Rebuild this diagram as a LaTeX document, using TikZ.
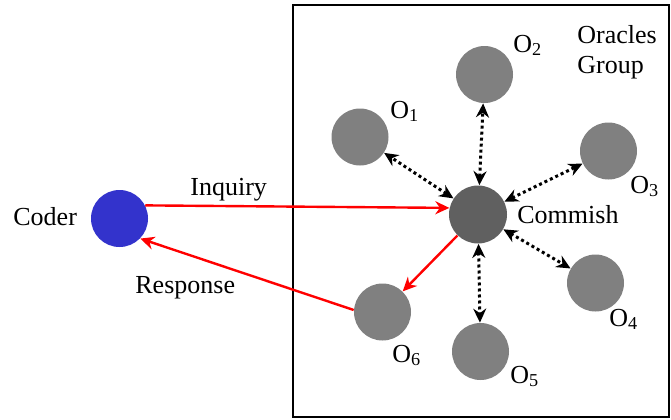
\documentclass[tikz,border=0pt]{standalone}
\usepackage{fontspec}
\setmainfont{Liberation Serif}
\usetikzlibrary{arrows.meta}
\definecolor{coderblue}{HTML}{3333CC}
\definecolor{oragray}{HTML}{808080}
\definecolor{comgray}{HTML}{606060}
\begin{document}
\begin{tikzpicture}[x=0.5pt,y=-0.5pt,
  lbl/.style={font=\fontsize{13pt}{15pt}\selectfont, inner sep=0pt, anchor=base west},
  oracle/.style={circle, fill=oragray, minimum size=28.5pt, inner sep=0pt},
  redarr/.style={red, line width=1.2pt, -{Stealth[length=7pt,width=6.5pt]}},
  dotarr/.style={line width=1.5pt, dash pattern=on 1.5pt off 1.5pt, {Stealth[length=7pt,width=6.5pt]}-{Stealth[length=7pt,width=6.5pt]}}]
\useasboundingbox (0,0) rectangle (671,419);
\node[draw, line width=1pt, minimum width=188pt, minimum height=206pt, inner sep=0pt] (grp) at (481,211) {};
\node[circle, fill=coderblue, minimum size=28.5pt, inner sep=0pt] (coder) at (119.5,218.5) {};
\node[circle, fill=comgray, minimum size=29pt, inner sep=0pt] (com) at (478,214.5) {};
\node[oracle] (o1) at (360,137) {};
\node[oracle] (o2) at (484.5,74.5) {};
\node[oracle] (o3) at (608.5,151) {};
\node[oracle] (o4) at (595.5,283) {};
\node[oracle] (o5) at (480.5,351.5) {};
\node[oracle] (o6) at (382.5,312) {};
\node[lbl] (tcoder) at (13,225) {Coder};
\node[lbl] (tinq) at (190,195) {Inquiry};
\node[lbl] (tresp) at (135,293) {Response};
\node[lbl, anchor=north west, align=left] (tgrp) at (577,25) {Oracles\\Group};
\node[lbl] (tcom) at (517,223) {Commish};
\node[lbl] (to1) at (390,118) {O\textsubscript{1}};
\node[lbl] (to2) at (513,52) {O\textsubscript{2}};
\node[lbl] (to3) at (630,193) {O\textsubscript{3}};
\node[lbl] (to4) at (609,326) {O\textsubscript{4}};
\node[lbl] (to5) at (510,383) {O\textsubscript{5}};
\node[lbl] (to6) at (392,362) {O\textsubscript{6}};
\draw[redarr] (coder.27) -- (com.167);
\draw[redarr] (o6.176) -- (coder.-44);
\draw[redarr] (com) -- (o6);
\foreach \o in {o1,o2,o3,o4,o5} \draw[dotarr] (com) -- (\o);
\end{tikzpicture}
\end{document}
